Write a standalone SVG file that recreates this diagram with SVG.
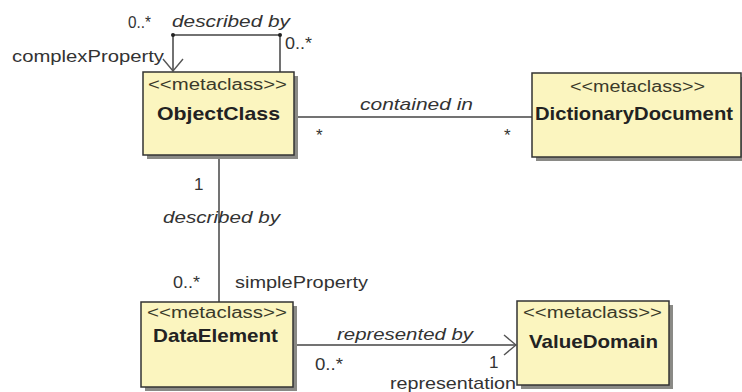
<svg xmlns="http://www.w3.org/2000/svg" width="742" height="392" viewBox="0 0 742 392">
<style>
.shadow{fill:#8a8a86;}
.box{fill:#fbf5bf;stroke:#333;stroke-width:1.5;}
.st{font-family:"Liberation Sans",Arial,sans-serif;font-size:16px;fill:#3a3a2a;}
.nm{font-family:"Liberation Sans",Arial,sans-serif;font-size:19px;font-weight:bold;fill:#222;}
.lb{font-family:"Liberation Sans",Arial,sans-serif;font-size:17px;fill:#333;}
.it{font-style:italic;}
.ln{fill:none;stroke:#444;stroke-width:1.5;}
</style>
<defs>
<marker id="open" markerWidth="14" markerHeight="22" refX="13" refY="11" orient="auto" markerUnits="userSpaceOnUse">
<path d="M1,1 L13,11 L1,21" fill="none" stroke="#555" stroke-width="1.4"/>
</marker>
</defs>
<rect width="742" height="392" fill="#fff"/>
<g id="connectors">
<polyline class="ln" points="280,72 280,35 173,35 173,71" marker-end="url(#open)"/>
<circle cx="173" cy="35" r="2" fill="#222"/>
<circle cx="280" cy="35" r="2" fill="#222"/>
<line class="ln" x1="294" y1="117" x2="532" y2="117"/>
<line class="ln" x1="219" y1="155" x2="219" y2="302"/>
<line class="ln" x1="293" y1="345" x2="516" y2="345" marker-end="url(#open)"/>
<text class="lb" x="128" y="28" textLength="23" lengthAdjust="spacingAndGlyphs">0..*</text>
<text class="lb it" x="172" y="27" textLength="118" lengthAdjust="spacingAndGlyphs">described by</text>
<text class="lb" x="285" y="49" textLength="27" lengthAdjust="spacingAndGlyphs">0..*</text>
<text class="lb" x="12" y="62" textLength="152" lengthAdjust="spacingAndGlyphs">complexProperty</text>
<text class="lb it" x="360" y="110" textLength="113" lengthAdjust="spacingAndGlyphs">contained in</text>
<text class="lb" x="316" y="141">*</text>
<text class="lb" x="504" y="141">*</text>
<text class="lb" x="194" y="190">1</text>
<text class="lb it" x="163" y="223" textLength="117" lengthAdjust="spacingAndGlyphs">described by</text>
<text class="lb" x="173" y="288" textLength="27" lengthAdjust="spacingAndGlyphs">0..*</text>
<text class="lb" x="235" y="288" textLength="133" lengthAdjust="spacingAndGlyphs">simpleProperty</text>
<text class="lb it" x="337" y="340" textLength="136" lengthAdjust="spacingAndGlyphs">represented by</text>
<text class="lb" x="315" y="370" textLength="28" lengthAdjust="spacingAndGlyphs">0..*</text>
<text class="lb" x="489" y="368">1</text>
<text class="lb" x="390" y="389" textLength="126" lengthAdjust="spacingAndGlyphs">representation</text>
</g>
<g id="ObjectClass">
<rect class="shadow" x="147" y="76" width="151" height="83"/>
<rect class="box" x="143" y="72" width="151" height="83"/>
<text class="st" x="148" y="90" textLength="139" lengthAdjust="spacingAndGlyphs">&lt;&lt;metaclass&gt;&gt;</text>
<text class="nm" x="157" y="120" textLength="123" lengthAdjust="spacingAndGlyphs">ObjectClass</text>
</g>
<g id="DictionaryDocument">
<rect class="shadow" x="536" y="77" width="210" height="84"/>
<rect class="box" x="532" y="73" width="209" height="84"/>
<text class="st" x="570" y="92" textLength="135" lengthAdjust="spacingAndGlyphs">&lt;&lt;metaclass&gt;&gt;</text>
<text class="nm" x="535" y="120" textLength="198" lengthAdjust="spacingAndGlyphs">DictionaryDocument</text>
</g>
<g id="DataElement">
<rect class="shadow" x="145" y="306" width="152" height="85"/>
<rect class="box" x="141" y="302" width="152" height="85"/>
<text class="st" x="147" y="318" textLength="140" lengthAdjust="spacingAndGlyphs">&lt;&lt;metaclass&gt;&gt;</text>
<text class="nm" x="153" y="342" textLength="125" lengthAdjust="spacingAndGlyphs">DataElement</text>
</g>
<g id="ValueDomain">
<rect class="shadow" x="521" y="305" width="152" height="84"/>
<rect class="box" x="517" y="301" width="152" height="84"/>
<text class="st" x="523" y="318" textLength="139" lengthAdjust="spacingAndGlyphs">&lt;&lt;metaclass&gt;&gt;</text>
<text class="nm" x="529" y="348" textLength="129" lengthAdjust="spacingAndGlyphs">ValueDomain</text>
</g>
</svg>
